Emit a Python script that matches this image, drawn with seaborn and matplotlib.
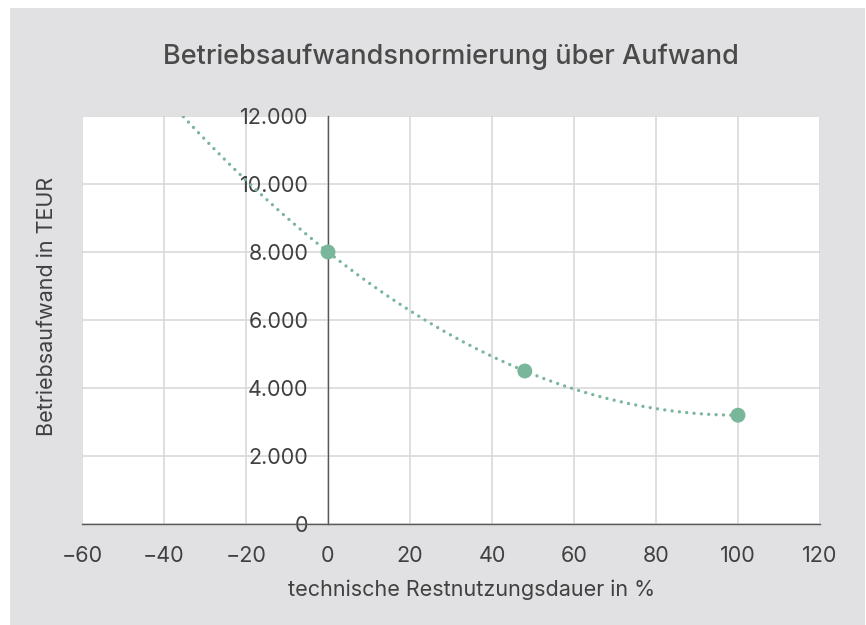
import numpy as np
import pandas as pd
import matplotlib
matplotlib.use("Agg")
import matplotlib.pyplot as plt
from matplotlib.patches import Rectangle
from matplotlib.ticker import FuncFormatter
import seaborn as sns

# ---- data ----
restnutzung = [0, 48, 100]           # technische Restnutzungsdauer in %
betriebsaufwand = [8000, 4500, 3200]  # Betriebsaufwand in TEUR
x_ticks = [-60, -40, -20, 0, 20, 40, 60, 80, 100, 120]
y_ticks = [0, 2000, 4000, 6000, 8000, 10000, 12000]
title = "Betriebsaufwandsnormierung über Aufwand"
xlabel = "technische Restnutzungsdauer in %"
ylabel = "Betriebsaufwand in TEUR"
trend_from = -60  # backward forecast of the polynomial trendline

sns.set_theme(style="white")
plt.rcParams["font.family"] = ["Inter", "DejaVu Sans"]

W, H = 866, 625
fig = plt.figure(figsize=(W / 100, H / 100), dpi=100, facecolor="white")
bg = Rectangle((10 / W, 0), (865 - 10) / W, (625 - 8) / H,
               transform=fig.transFigure, facecolor="#E1E1E3",
               edgecolor="none", zorder=-10)
fig.add_artist(bg)

L, R, T, B = 82, 820, 116, 524
ax = fig.add_axes([L / W, 1 - B / H, (R - L) / W, (B - T) / H])
ax.set_zorder(1)
ax.set_facecolor("white")

df = pd.DataFrame({"x": restnutzung, "y": betriebsaufwand})
coef = np.polyfit(df["x"], df["y"], 2)
xs = np.linspace(trend_from, max(restnutzung), 300)
trend = pd.DataFrame({"x": xs, "y": np.polyval(coef, xs)})

green = "#7AB69A"
sns.lineplot(data=trend, x="x", y="y", ax=ax, color=green, lw=2.4,
             linestyle=(0, (0.01, 2.2)), dash_capstyle="round", zorder=3)
sns.scatterplot(data=df, x="x", y="y", ax=ax, color=green, s=115,
                edgecolor="none", zorder=4)

ax.set_xlim(x_ticks[0], x_ticks[-1])
ax.set_ylim(y_ticks[0], y_ticks[-1])
ax.set_xticks(x_ticks)
ax.set_yticks(y_ticks)
ax.yaxis.set_major_formatter(FuncFormatter(lambda v, p: f"{int(v):,}".replace(",", ".")))
ax.grid(True, color="#D9D9D9", lw=1.2)
ax.set_axisbelow(True)

for s in ["top", "right"]:
    ax.spines[s].set_visible(False)
ax.spines["left"].set_position(("data", 0))
ax.spines["left"].set_color("#595959")
ax.spines["bottom"].set_color("#595959")
ax.spines["left"].set_linewidth(1.0)
ax.spines["bottom"].set_linewidth(1.0)
ax.spines["left"].set_zorder(2)

txt = "#404040"
ax.tick_params(axis="both", length=0, labelsize=15.5, labelcolor=txt)
ax.tick_params(axis="y", pad=14)
ax.tick_params(axis="x", pad=16)
ax.set_xlabel("")
ax.set_ylabel("")

fig.text((L + R) / 2 / W, 1 - 57 / H, title, ha="center", va="center",
         fontsize=19.5, color="#4A4A4A", fontweight="medium")
fig.text(472 / W, 1 - 590 / H, xlabel, ha="center", va="center",
         fontsize=15.5, color=txt)
fig.text(47 / W, 1 - 306 / H, ylabel, ha="center", va="center",
         rotation=90, fontsize=15.5, color=txt)

fig.savefig("out.png", dpi=100, facecolor="white")
